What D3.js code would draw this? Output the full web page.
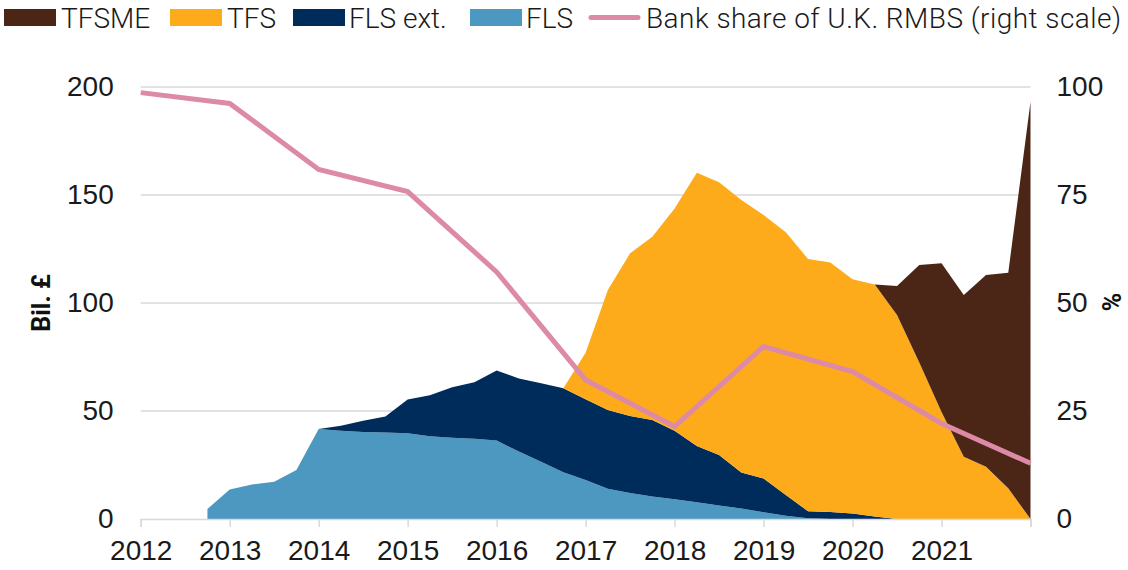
<!DOCTYPE html>
<html>
<head>
<meta charset="utf-8">
<script src="https://cdn.jsdelivr.net/npm/d3@7"></script>
<style>
  html, body { margin: 0; padding: 0; background: #fff; }
  svg { display: block; font-family: Roboto, 'Liberation Sans', sans-serif; }
</style>
</head>
<body>
<svg id="chart" width="1128" height="570"></svg>
<script>
// quarterly dates, as decimal years (quarter ends)
const quarters = [
  2012.75, 2013.0, 2013.25, 2013.5, 2013.75, 2014.0, 2014.25, 2014.5, 2014.75,
  2015.0, 2015.25, 2015.5, 2015.75, 2016.0, 2016.25, 2016.5, 2016.75,
  2017.0, 2017.25, 2017.5, 2017.75, 2018.0, 2018.25, 2018.5, 2018.75,
  2019.0, 2019.25, 2019.5, 2019.75, 2020.0, 2020.25, 2020.5, 2020.75,
  2021.0, 2021.25, 2021.5, 2021.75, 2022.0
];

// Bil. £
const fls = [
  4.6, 13.7, 16.0, 17.3, 22.7, 41.7, 40.9, 40.3, 40.1,
  39.7, 38.3, 37.6, 37.1, 36.3, 31.2, 26.5, 21.6,
  18.0, 14.0, 12.0, 10.4, 9.1, 7.7, 6.3, 4.9,
  3.1, 1.5, 0.3, 0, 0, 0, 0, 0,
  0, 0, 0, 0, 0
];
const flsExt = [
  0, 0, 0, 0, 0, 0, 2.3, 5.2, 7.3,
  15.6, 19.0, 23.4, 26.2, 32.4, 33.9, 36.3, 38.9,
  37.4, 36.5, 35.7, 35.4, 31.7, 26.1, 23.3, 16.6,
  15.7, 9.6, 3.3, 3.2, 2.6, 1.1, 0, 0,
  0, 0, 0, 0, 0
];
const tfs = [
  0, 0, 0, 0, 0, 0, 0, 0, 0,
  0, 0, 0, 0, 0, 0, 0, 0,
  21.6, 55.5, 75.3, 84.9, 103.0, 126.5, 126.3, 126.2,
  121.9, 121.6, 116.8, 115.5, 108.4, 107.5, 94.4, 72.5,
  49.5, 28.8, 24.2, 14.2, 0
];
const tfsme = [
  0, 0, 0, 0, 0, 0, 0, 0, 0,
  0, 0, 0, 0, 0, 0, 0, 0,
  0, 0, 0, 0, 0, 0, 0, 0,
  0, 0, 0, 0, 0, 0, 13.5, 45.1,
  68.9, 74.9, 88.8, 99.8, 193.2
];

// bank share of U.K. RMBS, %, annual
const shareYears = [2012, 2013, 2014, 2015, 2016, 2017, 2018, 2019, 2020, 2021, 2022];
const shareVals = [98.7, 96.2, 80.9, 75.8, 57.2, 32.2, 21.4, 39.9, 34.1, 22.1, 12.9];

const xTicks = [2012, 2013, 2014, 2015, 2016, 2017, 2018, 2019, 2020, 2021];
const leftTicks = [0, 50, 100, 150, 200];
const rightTicks = [0, 25, 50, 75, 100];

const seriesKeys = ['fls', 'flsExt', 'tfs', 'tfsme'];
const colors = { fls: '#4d98c1', flsExt: '#002c5c', tfs: '#fdab1a', tfsme: '#4b2617' };
const lineColor = '#dd8aa6';

const svg = d3.select('#chart');
const m = { left: 140.7, right: 1030.5, top: 87, bottom: 519 };

const x = d3.scaleLinear().domain([2012, 2022]).range([m.left, m.right]);
const yL = d3.scaleLinear().domain([0, 200]).range([m.bottom, m.top]);
const yR = d3.scaleLinear().domain([0, 100]).range([m.bottom, m.top]);

const rows = quarters.map((q, i) => ({
  date: q, fls: fls[i], flsExt: flsExt[i], tfs: tfs[i], tfsme: tfsme[i]
}));

// gridlines
svg.append('g')
  .selectAll('line')
  .data(leftTicks.filter(d => d > 0))
  .join('line')
  .attr('x1', m.left).attr('x2', m.right)
  .attr('y1', d => yL(d)).attr('y2', d => yL(d))
  .attr('stroke', '#d9d9d9').attr('stroke-width', 1.5);

// stacked areas
const layers = d3.stack().keys(seriesKeys)(rows);
const area = d3.area()
  .x(d => x(d.data.date))
  .y0(d => yL(d[0]))
  .y1(d => yL(d[1]));

svg.append('g')
  .selectAll('path')
  .data(layers)
  .join('path')
  .attr('fill', d => colors[d.key])
  .attr('d', area);

// x axis (tick at 2022 has no label)
const xAxis = svg.append('g')
  .attr('transform', `translate(0,${m.bottom})`)
  .call(d3.axisBottom(x)
    .tickValues(xTicks.concat([2022]))
    .tickFormat(d => xTicks.includes(d) ? String(d) : '')
    .tickSize(8).tickPadding(13));
xAxis.select('.domain').attr('stroke', '#d9d9d9').attr('stroke-width', 1.5);
xAxis.selectAll('.tick line').attr('stroke', '#d9d9d9').attr('stroke-width', 1.5);
xAxis.selectAll('.tick text')
  .attr('font-size', 28).attr('font-weight', 300).attr('fill', '#1a1a1a');

// left axis
const yAxisL = svg.append('g')
  .attr('transform', `translate(${m.left},0)`)
  .call(d3.axisLeft(yL).tickValues(leftTicks).tickSize(0).tickPadding(27));
yAxisL.select('.domain').remove();
yAxisL.selectAll('.tick text').attr('font-size', 28).attr('font-weight', 300).attr('fill', '#1a1a1a');

// right axis
const yAxisR = svg.append('g')
  .attr('transform', `translate(${m.right},0)`)
  .call(d3.axisRight(yR).tickValues(rightTicks).tickSize(0).tickPadding(26));
yAxisR.select('.domain').remove();
yAxisR.selectAll('.tick text').attr('font-size', 28).attr('font-weight', 300).attr('fill', '#1a1a1a');

// axis titles
svg.append('text')
  .attr('transform', `translate(50,${(m.top + m.bottom) / 2}) rotate(-90)`)
  .attr('text-anchor', 'middle')
  .attr('font-size', 25).attr('font-weight', 'bold').attr('fill', '#111')
  .text('Bil. £');
svg.append('text')
  .attr('transform', `translate(1102,${(m.top + m.bottom) / 2 - 1}) rotate(90)`)
  .attr('text-anchor', 'middle')
  .attr('font-size', 25).attr('font-weight', 'bold').attr('fill', '#111')
  .text('%');

// share line
const line = d3.line()
  .x((d, i) => x(shareYears[i]))
  .y(d => yR(d));
svg.append('path')
  .datum(shareVals)
  .attr('fill', 'none')
  .attr('stroke', lineColor)
  .attr('stroke-width', 5)
  .attr('d', line);

// legend
const legendItems = [
  { label: 'TFSME', color: colors.tfsme, x: 4, tx: 61 },
  { label: 'TFS', color: colors.tfs, x: 170, tx: 227 },
  { label: 'FLS ext.', color: colors.flsExt, x: 293, tx: 349 },
  { label: 'FLS', color: colors.fls, x: 470, tx: 526 }
];
const legend = svg.append('g');
legendItems.forEach(it => {
  legend.append('rect')
    .attr('x', it.x).attr('y', 9).attr('width', 52).attr('height', 17)
    .attr('fill', it.color);
  legend.append('text')
    .attr('x', it.tx).attr('y', 28)
    .attr('font-size', 28).attr('font-weight', 300).attr('fill', '#1a1a1a')
    .text(it.label);
});
legend.append('line')
  .attr('x1', 591).attr('x2', 638).attr('y1', 17.5).attr('y2', 17.5)
  .attr('stroke', lineColor).attr('stroke-width', 5).attr('stroke-linecap', 'round');
legend.append('text')
  .attr('x', 646).attr('y', 28)
  .attr('font-size', 28).attr('font-weight', 300).attr('fill', '#1a1a1a')
  .attr('letter-spacing', 0.45)
  .text('Bank share of U.K. RMBS (right scale)');
</script>
</body>
</html>
